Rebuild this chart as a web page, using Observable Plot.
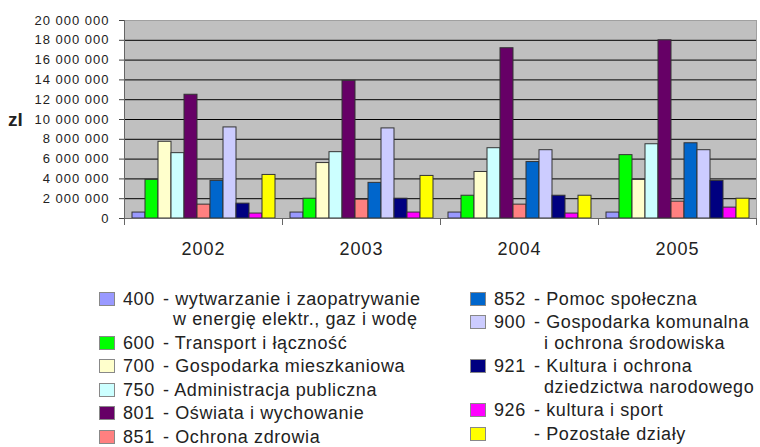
<!DOCTYPE html>
<html><head><meta charset="utf-8">
<script src="https://cdn.jsdelivr.net/npm/d3@7"></script>
<script src="https://cdn.jsdelivr.net/npm/@observablehq/plot@0.6"></script>
<style>
body{margin:0;background:#fff;}
#wrap{position:relative;width:760px;height:447px;overflow:hidden;font-family:"Liberation Sans",Arial,sans-serif;color:#222;}
#chart{position:absolute;left:0;top:0;}
.unit{position:absolute;left:8px;top:110px;font-weight:bold;font-size:19px;line-height:20px;}
.col{position:absolute;top:288.5px;}
.entry{position:relative;padding-left:24px;margin-bottom:3px;font-size:18px;line-height:20.5px;letter-spacing:0.6px;white-space:nowrap;}
.sw{position:absolute;left:0;top:3px;width:14px;height:12px;border:1px solid #888;}
.code{display:inline-block;width:40px;}
.l2{padding-left:50px;}
</style>
</head><body>
<div id="wrap">
  <div id="chart"></div>
  <div class="unit">zl</div>
  <div class="col" id="legL" style="left:99px"></div>
  <div class="col" id="legR" style="left:470px"></div>
</div>
<script>
const years = ["2002", "2003", "2004", "2005"];
const codes = ["400", "600", "700", "750", "801", "851", "852", "900", "921", "926", "other"];
const codeLabels = ["400", "600", "700", "750", "801", "851", "852", "900", "921", "926", ""];
const names1 = [
  "wytwarzanie i zaopatrywanie",
  "Transport i łączność",
  "Gospodarka mieszkaniowa",
  "Administracja publiczna",
  "Oświata i wychowanie",
  "Ochrona zdrowia",
  "Pomoc społeczna",
  "Gospodarka komunalna",
  "Kultura i ochrona",
  "kultura i sport",
  "Pozostałe działy"
];
const names2 = [
  "w energię elektr., gaz i wodę", "", "", "", "", "", "",
  "i ochrona  środowiska", "dziedzictwa narodowego", "", ""
];
const colors = ["#9999ff", "#00ff00", "#ffffcc", "#ccffff", "#660066", "#ff8080",
                "#0066cc", "#ccccff", "#000080", "#ff00ff", "#ffff00"];
const v2002 = [600000, 3900000, 7750000, 6600000, 12500000, 1400000, 3800000, 9200000, 1500000, 500000, 4400000];
const v2003 = [600000, 2000000, 5600000, 6700000, 13900000, 1900000, 3600000, 9100000, 2000000, 600000, 4300000];
const v2004 = [600000, 2300000, 4700000, 7100000, 17200000, 1400000, 5700000, 6900000, 2300000, 500000, 2300000];
const v2005 = [600000, 6400000, 3900000, 7500000, 18000000, 1700000, 7600000, 6900000, 3800000, 1100000, 2000000];
const yTicks = [0, 2000000, 4000000, 6000000, 8000000, 10000000, 12000000, 14000000, 16000000, 18000000, 20000000];
const gridTicks = [2000000, 4000000, 6000000, 8000000, 10000000, 12000000, 14000000, 16000000, 18000000];

const series = [v2002, v2003, v2004, v2005];
const data = years.flatMap((yr, i) => codes.map((c, j) => ({year: yr, code: c, value: series[i][j]})));
const fmt = d => d3.format(",")(d).replace(/,/g, " ");

const chart = Plot.plot({
  width: 760, height: 270,
  marginLeft: 123, marginRight: 3, marginTop: 20, marginBottom: 52,
  style: {fontFamily: "Liberation Sans, Arial, sans-serif", color: "#222", background: "transparent", letterSpacing: "1px"},
  fx: {domain: years, paddingInner: 0, paddingOuter: 0, label: null},
  x: {domain: codes, paddingInner: 0, paddingOuter: 0.55, axis: null},
  y: {domain: [0, 20000000], axis: null},
  color: {domain: codes, range: colors},
  marks: [
    Plot.frame({facet: "super", fill: "#c0c0c0", stroke: "#a0a0a0"}),
    Plot.ruleY(gridTicks, {stroke: "#000", strokeWidth: 1}),
    Plot.barY(data, {fx: "year", x: "code", y: "value", fill: "code", stroke: "#333", strokeWidth: 1}),
    Plot.ruleY([0], {stroke: "#666"}),
    Plot.frame({facet: "super", anchor: "left", stroke: "#666"}),
    Plot.frame({anchor: "left", stroke: "#666", insetTop: 198, insetBottom: -6}),
    Plot.frame({anchor: "right", stroke: "#666", insetTop: 198, insetBottom: -6}),
    Plot.axisY(yTicks, {tickSize: 5, tickPadding: 10, tickFormat: fmt, fontSize: 13, stroke: "#444", label: null}),
    Plot.axisFx({anchor: "bottom", tickSize: 0, tickPadding: 24, fontSize: 18, label: null})
  ]
});
document.getElementById("chart").appendChild(chart);

function entry(i) {
  const d = document.createElement("div");
  d.className = "entry";
  const sw = document.createElement("div");
  sw.className = "sw";
  sw.style.background = colors[i];
  d.appendChild(sw);
  const l1 = document.createElement("div");
  const code = document.createElement("span");
  code.className = "code";
  code.textContent = codeLabels[i];
  l1.appendChild(code);
  l1.appendChild(document.createTextNode("- " + names1[i]));
  d.appendChild(l1);
  if (names2[i]) {
    const l2 = document.createElement("div");
    l2.className = "l2";
    l2.textContent = names2[i];
    d.appendChild(l2);
  }
  return d;
}
const legL = document.getElementById("legL");
const legR = document.getElementById("legR");
codes.forEach((c, i) => (i < 6 ? legL : legR).appendChild(entry(i)));
</script>
</body></html>
